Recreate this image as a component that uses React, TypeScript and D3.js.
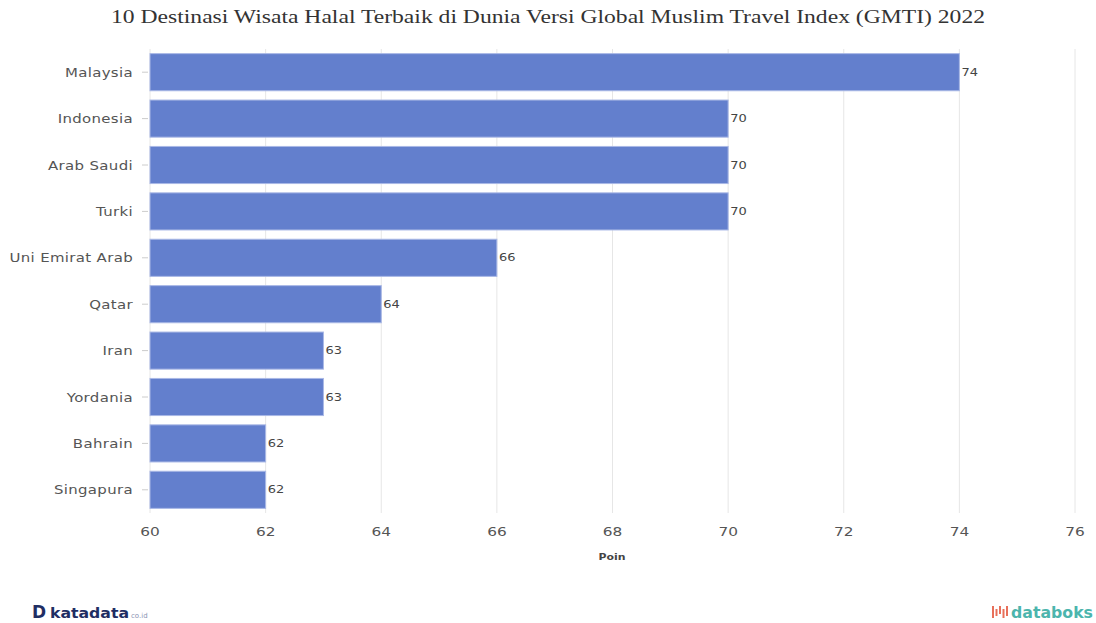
import React from "react";
import * as d3 from "d3";

const countries = ["Malaysia", "Indonesia", "Arab Saudi", "Turki", "Uni Emirat Arab", "Qatar", "Iran", "Yordania", "Bahrain", "Singapura"];
const scores = [74, 70, 70, 70, 66, 64, 63, 63, 62, 62];
const xTicks = [60, 62, 64, 66, 68, 70, 72, 74, 76];

const W = 1096, H = 623;
const left = 150, right = 1075, top = 49, bottom = 513;
const font = "'DejaVu Sans', Verdana, sans-serif";

function SText({ x, y, sx = 1.2, children, ...rest }: any) {
  return (
    <g transform={`translate(${x},${y}) scale(${sx},1)`}>
      <text x={0} y={0} {...rest}>{children}</text>
    </g>
  );
}

export default function App() {
  const x = d3.scaleLinear().domain([60, 76]).range([left, right]);
  const y = d3.scaleBand<string>().domain(countries).range([top, bottom]).paddingInner(0.2).paddingOuter(0.1);
  return (
    <svg width={W} height={H} style={{ position: "absolute", left: 0, top: 0, background: "#fff" }}>
      <text x={548} y={23} textAnchor="middle" fontFamily="'Liberation Serif', 'DejaVu Serif', serif" fontSize={19} fill="#333" textLength={874} lengthAdjust="spacingAndGlyphs">
        10 Destinasi Wisata Halal Terbaik di Dunia Versi Global Muslim Travel Index (GMTI) 2022
      </text>
      {xTicks.map((t) => (
        <g key={t}>
          <line x1={x(t)} x2={x(t)} y1={top} y2={bottom} stroke="#e6e6e6" strokeWidth={1} />
          <SText x={x(t)} y={536} sx={1.18} textAnchor="middle" fontFamily={font} fontSize={13} fill="#555">{t}</SText>
        </g>
      ))}
      {countries.map((c, i) => {
        const yy = y(c)!;
        const bw = y.bandwidth();
        return (
          <g key={c}>
            <line x1={left - 8} x2={left - 2} y1={yy + bw / 2} y2={yy + bw / 2} stroke="#ccc" />
            <SText x={left - 17} y={yy + bw / 2} sx={1.15} dy="0.35em" textAnchor="end" fontFamily={font} fontSize={13} fill="#555" letterSpacing={0.3}>{c}</SText>
            <rect x={x(60)} y={yy} width={x(scores[i]) - x(60)} height={bw} fill="#637fcd" stroke="#a9b8e6" strokeWidth={1} />
            <SText x={x(scores[i]) + 2} y={yy + bw / 2} sx={1.3} dy="0.35em" fontFamily={font} fontSize={10} fill="#444">{scores[i]}</SText>
          </g>
        );
      })}
      <SText x={612} y={560} sx={1.15} textAnchor="middle" fontFamily={font} fontSize={9.5} fontWeight="bold" fill="#444">Poin</SText>
      <g>
        <text x={32} y={618} fontFamily={font} fontSize={17} fontWeight="bold" fill="#1f2e63">D</text>
        <text x={50} y={618} fontFamily={font} fontSize={14} fontWeight="bold" fill="#1f2e63" textLength={79} lengthAdjust="spacingAndGlyphs">katadata</text>
        <text x={131} y={618} fontFamily={font} fontSize={7} fill="#8a93b3">co.id</text>
      </g>
      <g>
        {[0, 1, 2, 3, 4].map((k) => (
          <line key={k} x1={993 + k * 3.5} x2={993 + k * 3.5} y1={606 + (k % 2) * 3} y2={618 - (k % 3) * 2} stroke="#e8705a" strokeWidth={2} />
        ))}
        <text x={1011} y={618} fontFamily={font} fontSize={15} fontWeight="bold" fill="#4cb5ad" textLength={82} lengthAdjust="spacingAndGlyphs">databoks</text>
      </g>
    </svg>
  );
}
